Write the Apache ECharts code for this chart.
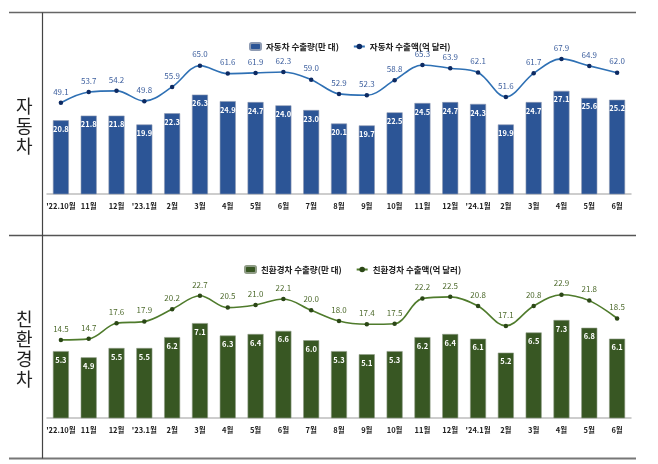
<!DOCTYPE html>
<html><head><meta charset="utf-8">
<script src="https://cdn.jsdelivr.net/npm/echarts@6/dist/echarts.min.js"></script>
<style>html,body{margin:0;padding:0;background:#fff}#c{width:658px;height:464px}</style>
</head><body><div id="c"></div>
<script>
const categories = ["'22.10월","11월","12월","'23.1월","2월","3월","4월","5월","6월","7월","8월","9월","10월","11월","12월","'24.1월","2월","3월","4월","5월","6월"];
const carVolume = [20.8,21.8,21.8,19.9,22.3,26.3,24.9,24.7,24.0,23.0,20.1,19.7,22.5,24.5,24.7,24.3,19.9,24.7,27.1,25.6,25.2];
const carValue = [49.1,53.7,54.2,49.8,55.9,65.0,61.6,61.9,62.3,59.0,52.9,52.3,58.8,65.3,63.9,62.1,51.6,61.7,67.9,64.9,62.0];
const ecoVolume = [5.3,4.9,5.5,5.5,6.2,7.1,6.3,6.4,6.6,6.0,5.3,5.1,5.3,6.2,6.4,6.1,5.2,6.5,7.3,6.8,6.1];
const ecoValue = [14.5,14.7,17.6,17.9,20.2,22.7,20.5,21.0,22.1,20.0,18.0,17.4,17.5,22.2,22.5,20.8,17.1,20.8,22.9,21.8,18.5];
const names = ['자동차 수출량(만 대)','자동차 수출액(억 달러)','친환경차 수출량(만 대)','친환경차 수출액(억 달러)'];

const FONT = '"Noto Sans CJK KR", "Noto Sans", sans-serif';
const chart = echarts.init(document.getElementById('c'), null, {renderer:'canvas'});
const xAx = (gi) => ({
  type:'category', gridIndex:gi, data:categories, boundaryGap:true,
  axisLine:{show:true, lineStyle:{color:'#bdbdbd', width:1.5}},
  axisTick:{show:false},
  axisLabel:{color:'#222', fontSize:7.5, fontWeight:'bold', fontFamily:FONT, margin:8, interval:0}
});
const yAx = (gi,min,max) => ({type:'value', gridIndex:gi, min:min, max:max, show:false, splitLine:{show:false}});
const lineLabel = (c) => ({show:true, position:'top', distance:5, color:c, fontSize:8, fontFamily:FONT, formatter:p=>p.value.toFixed(1)});
const barLabel = {show:true, position:'insideTop', distance:5, color:'#fff', fontSize:7.5, fontWeight:'bold', fontFamily:FONT, formatter:p=>p.value.toFixed(1)};

chart.setOption({
  animation:false,
  textStyle:{fontFamily:FONT},
  grid:[
    {left:47, right:27, top:54, height:140},
    {left:47, right:27, top:278, height:140}
  ],
  xAxis:[xAx(0), xAx(1)],
  yAxis:[yAx(0,5,35), yAx(0,10,70), yAx(1,1,10), yAx(1,0,26)],
  legend:[
    {data:[names[0],names[1]], left:244, top:37, itemWidth:11, itemHeight:7, itemGap:14,
     textStyle:{fontSize:8.5, fontWeight:'bold', color:'#222', fontFamily:FONT}},
    {data:[names[2],names[3]], left:239, top:260, itemWidth:11, itemHeight:7, itemGap:14,
     textStyle:{fontSize:8.5, fontWeight:'bold', color:'#222', fontFamily:FONT}}
  ],
  series:[
    {name:names[0], type:'bar', xAxisIndex:0, yAxisIndex:0, data:carVolume, barWidth:16,
     itemStyle:{color:'#2c5596', borderColor:'#8e9bb3', borderWidth:0.6}, label:barLabel},
    {name:names[1], type:'line', xAxisIndex:0, yAxisIndex:1, data:carValue, smooth:0.35,
     symbol:'circle', symbolSize:4.5, lineStyle:{color:'#2e70b4', width:1.6},
     itemStyle:{color:'#0d2a62'}, label:lineLabel('#3d5f9e')},
    {name:names[2], type:'bar', xAxisIndex:1, yAxisIndex:2, data:ecoVolume, barWidth:16,
     itemStyle:{color:'#385723', borderColor:'#8f9c86', borderWidth:0.6}, label:barLabel},
    {name:names[3], type:'line', xAxisIndex:1, yAxisIndex:3, data:ecoValue, smooth:0.35,
     symbol:'circle', symbolSize:4.5, lineStyle:{color:'#4f7b2c', width:1.6},
     itemStyle:{color:'#2b4716'}, label:lineLabel('#4d6a2c')}
  ],
  graphic:[
    {type:'line', shape:{x1:9, y1:12.5, x2:636, y2:12.5}, style:{stroke:'#666', lineWidth:1.5}, silent:true},
    {type:'line', shape:{x1:9, y1:235.5, x2:636, y2:235.5}, style:{stroke:'#555', lineWidth:1.5}, silent:true},
    {type:'line', shape:{x1:9, y1:458.5, x2:636, y2:458.5}, style:{stroke:'#777', lineWidth:2}, silent:true},
    {type:'line', shape:{x1:42.5, y1:12.5, x2:42.5, y2:458.5}, style:{stroke:'#444', lineWidth:1.2}, silent:true},
    {type:'text', left:16, top:96, style:{text:'자\n동\n차', font:'18px '+FONT, fill:'#222', lineHeight:20, align:'center'}},
    {type:'text', left:16, top:309, style:{text:'친\n환\n경\n차', font:'18px '+FONT, fill:'#222', lineHeight:20, align:'center'}}
  ]
});
</script></body></html>
